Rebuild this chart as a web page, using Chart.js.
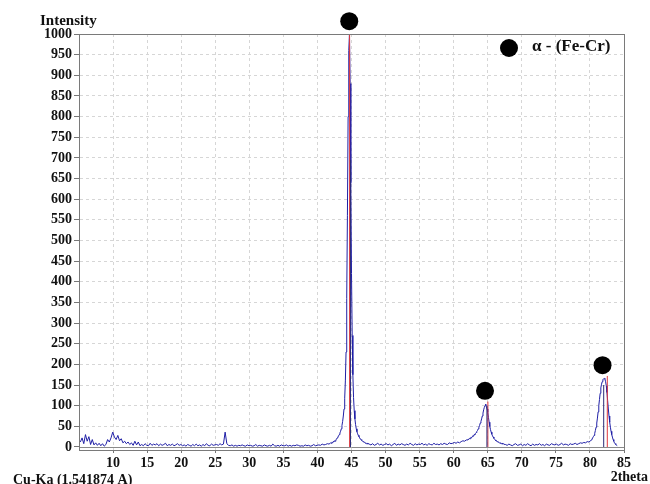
<!DOCTYPE html>
<html>
<head>
<meta charset="utf-8">
<script src="https://cdn.jsdelivr.net/npm/chart.js@4.4.1/dist/chart.umd.min.js"></script>
<style>
html,body{margin:0;padding:0;background:#fff;}
#wrap{width:650px;height:484px;position:relative;}
</style>
</head>
<body>
<div id="wrap"><canvas id="c"></canvas></div>
<script>
// ---- Data (2theta segments: start, step, intensity values) ----
const seg1Start = 5.2, seg1Step = 0.25;
const seg1 = [12,22,8,30, 14,25,6,18, 5,10,4,9, 3,8,2,6, 18,12,22,36, 24,18,28,15, 20,10,14,8, 12,6,10,4,
  14,5,12,3, 6,3,8,4, 3,9,4,7, 5,8,3,7, 4,6,9,3, 6,4,7,3, 5,8,4,6, 3,5,2,6, 4,2,6,3, 7,3,5,2, 6,3,8,4,
  3,7,4,5, 6,4,8,5, 7,36,8,4, 3,5,2,4, 2,4,3,5, 3,2,5,3, 4,2,3,6, 2,4,3,2, 5,3,2,4, 2,7,3,2, 4,2,5,3,
  3,5,2,4, 2,4,3,5, 4,2,3,2, 5,3,4,2, 3,6,3,4, 5,4,7,5, 6,8,7,10];
const seg2Start = 42.0, seg2Step = 0.1;
const seg2 = [9,11,10,13,12,15,14,17,19,22, 24,27,30,34,38,44,52,62,75,92,
  118,160,230,360,560,800,960,1000,880,640, 420,270,175,120,88,68,54,44,37,32,
  28,25,22,19,18,16,14,13,12,11, 10,9,8,9,7,8];
const seg3Start = 47.6, seg3Step = 0.25;
const seg3 = [7,5,8,4,6,9,5,7,4,6, 8,5,7,3,6,9,4,7,5,8, 6,4,7,5,9,6,4,8,5,7,
  6,9,5,7,4,8,6,5,9,6, 7,5,8,6,9,7,6,10,8,9, 11,9,12,10,13,15,14,17];
const seg4Start = 62.0, seg4Step = 0.1;
const seg4 = [17,19,18,21,20,23,22,25,27,26, 30,29,33,35,38,40,44,48,52,58,
  62,68,75,82,90,96,100,104,98,92, 85,72,60,50,42,36,31,27,24,21,
  19,17,15,14,13,12,11,10,10,9, 8,9,7,8,6,7];
const seg5Start = 67.6, seg5Step = 0.25;
const seg5 = [6,4,7,5,3,6,8,4,5,7, 3,6,4,8,5,3,7,4,6,5, 8,4,6,3,7,5,4,8,6,5,
  7,4,6,9,5,7,6,4,8,6, 7,9,6,8,10,9,11,10,13,12];
const seg6Start = 80.0, seg6Step = 0.1;
const seg6 = [14,15,17,19,22,25,28,33,40,48, 58,70,85,100,115,130,143,152,158,163,
  165,166,164,158,148,132,112,92,75,60, 48,38,30,24,18,14,10,8,6,4, 3];

// reference peak sticks
const redStickTheta = [44.72, 65.02, 82.55];
const redStickHeight = [1000, 110, 172];
const navyStickTheta = [44.85, 64.88, 82.02];
const navyStickHeight = [695, 100, 150];

// phase markers
const markerTheta = [44.67, 64.6, 81.85];
const markerIntensity = [1031, 136, 198];
const phaseLabel = 'α - (Fe-Cr)';

// axis ticks
const xTicks = [10,15,20,25,30,35,40,45,50,55,60,65,70,75,80,85];
const yTicks = [0,50,100,150,200,250,300,350,400,450,500,550,600,650,700,750,800,850,900,950,1000];

// ---- build datasets ----
function segPoints(start, step, vals){
  return vals.map((v,i)=>({x:+(start+i*step).toFixed(3), y:v}));
}
const profile = [].concat(
  segPoints(seg1Start,seg1Step,seg1), segPoints(seg2Start,seg2Step,seg2),
  segPoints(seg3Start,seg3Step,seg3), segPoints(seg4Start,seg4Step,seg4),
  segPoints(seg5Start,seg5Step,seg5), segPoints(seg6Start,seg6Step,seg6));
function sticks(th, h){
  const out=[];
  th.forEach((t,i)=>{ out.push({x:t,y:0},{x:t,y:h[i]},{x:t,y:null}); });
  return out;
}
const markers = markerTheta.map((t,i)=>({x:t,y:markerIntensity[i]}));

const FONT = "'Liberation Serif','Times New Roman',serif";

const decor = {
  id:'decor',
  beforeDatasetsDraw(chart){
    const {ctx, chartArea:a, scales:{y}} = chart;
    ctx.save();
    ctx.strokeStyle='#8a8a8a'; ctx.lineWidth=1;
    const y0 = Math.round(y.getPixelForValue(0))+0.5;
    ctx.beginPath(); ctx.moveTo(a.left,y0); ctx.lineTo(a.right,y0); ctx.stroke();
    ctx.restore();
  },
  afterDraw(chart){
    const {ctx, chartArea:a} = chart;
    ctx.save();
    ctx.strokeStyle='#7a7a7a'; ctx.lineWidth=1;
    ctx.strokeRect(Math.round(a.left)+0.5, Math.round(a.top)+0.5, Math.round(a.right-a.left), Math.round(a.bottom-a.top));
    // phase markers at the positions the library computed for the marker dataset
    const meta = chart.getDatasetMeta(3);
    ctx.fillStyle='#000';
    meta.data.forEach(pt=>{ ctx.beginPath(); ctx.arc(pt.x, pt.y, 9, 0, Math.PI*2); ctx.fill(); });
    ctx.fillStyle='#111';
    ctx.font = "bold 15px "+FONT;
    ctx.textBaseline='middle'; ctx.textAlign='left';
    ctx.fillText('Intensity', 40, 21);
    ctx.font = "bold 14px "+FONT;
    ctx.fillText('Cu-Ka (1.541874 A)', 13, 480);
    ctx.textAlign='right';
    ctx.fillText('2theta', 648, 477);
    // legend
    ctx.beginPath(); ctx.arc(a.right-115, a.top+14, 9, 0, Math.PI*2); ctx.fillStyle='#000'; ctx.fill();
    ctx.fillStyle='#111'; ctx.textAlign='left';
    ctx.font = "bold 17px "+FONT;
    ctx.fillText(phaseLabel, a.right-92, a.top+13);
    ctx.restore();
  }
};

new Chart(document.getElementById('c'), {
  type:'line',
  data:{ datasets:[
    {label:'profile', data:profile, borderColor:'#1f1fa6', borderWidth:1, pointRadius:0, tension:0, order:3},
    {label:'ref1', data:sticks(redStickTheta,redStickHeight), borderColor:'#e0393e', borderWidth:1, pointRadius:0, spanGaps:false, order:2},
    {label:'ref2', data:sticks(navyStickTheta,navyStickHeight), borderColor:'#2a2a78', borderWidth:1, pointRadius:0, spanGaps:false, order:1},
    {label:phaseLabel, type:'scatter', data:markers, backgroundColor:'#000', borderColor:'#000', pointRadius:0, pointHoverRadius:0, clip:false, order:0}
  ]},
  options:{
    responsive:true, maintainAspectRatio:false, animation:false,
    events:[],
    layout:{padding:{top:34,right:26,left:0,bottom:0}},
    plugins:{legend:{display:false}, tooltip:{enabled:false}},
    scales:{
      x:{type:'linear', min:5, max:85,
        afterFit(s){ s.height=34; },
        afterBuildTicks(s){ s.ticks = xTicks.map(v=>({value:v})); },
        ticks:{color:'#111', font:{family:FONT, size:14, weight:'bold'}, padding:2, maxRotation:0, autoSkip:false, callback:(v)=>String(v)},
        grid:{color:(c)=> (c.tick && c.tick.value===85) ? 'rgba(0,0,0,0)' : '#d6d6d6', tickColor:'#777', tickLength:3, tickBorderDash:[1,0], drawTicks:true},
        border:{display:true, color:'#7a7a7a', dash:[3,3]}
      },
      y:{type:'linear', min:-7.3, max:1000,
        afterFit(s){ s.width=79; },
        afterBuildTicks(s){ s.ticks = yTicks.map(v=>({value:v})); },
        ticks:{color:'#111', font:{family:FONT, size:14, weight:'bold'}, padding:2, autoSkip:false, callback:(v)=>String(v)},
        grid:{color:(c)=> (c.tick && (c.tick.value===0 || c.tick.value===1000)) ? 'rgba(0,0,0,0)' : '#d6d6d6', tickColor:'#777', tickLength:5, tickBorderDash:[1,0]},
        border:{display:true, color:'#7a7a7a', dash:[3,3]}
      }
    }
  },
  plugins:[decor]
});
</script>
</body>
</html>
